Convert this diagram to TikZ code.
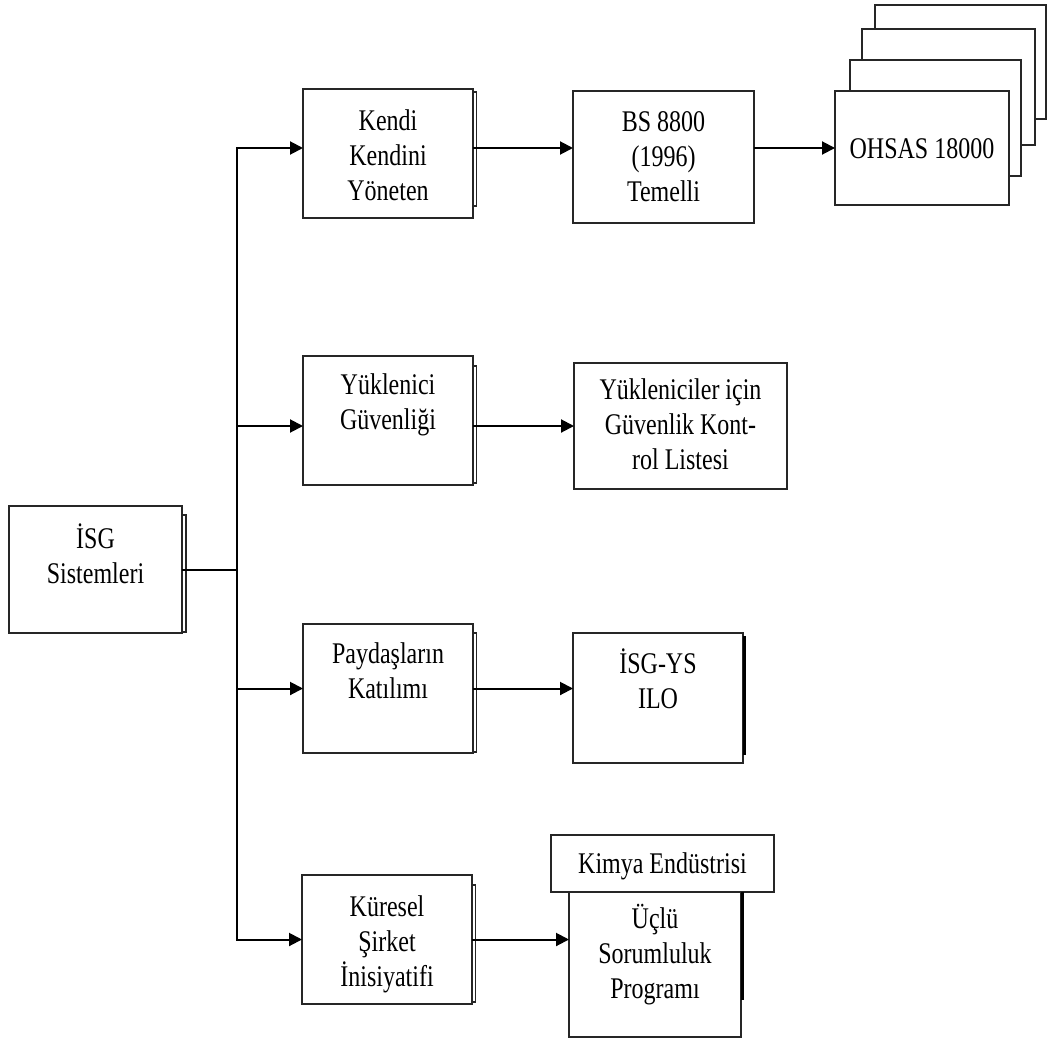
\documentclass[tikz,border=0pt]{standalone}
\usepackage{fontspec}
\setmainfont{Liberation Serif}[FakeStretch=0.8]
\usetikzlibrary{arrows.meta,calc,backgrounds}

\begin{document}
\begin{tikzpicture}[x=1pt,y=-1pt,
  box/.style={draw=black!85,line width=1.9pt,fill=white,rectangle,
              inner sep=0pt,outer sep=0pt,anchor=north west},
  % texts are placed by the baseline of their last line
  txt/.style={align=center,font=\fontsize{30}{35}\selectfont,
              anchor=base,inner sep=0pt},
  plain/.style={line width=2pt,draw=black},
  link/.style={plain,-{Triangle[length=13pt,width=13pt]}},
  sheet/.style={draw=black!85,line width=1.4pt},
  thickedge/.style={draw=black,line width=3pt}
]
\useasboundingbox (0,0) rectangle (1048,1038);

% ---- left root box ----
\node[box,minimum width=173pt,minimum height=127pt] (isg) at (9,506) {};
\node[txt] (isgT) at (95.5,583) {İSG\\Sistemleri};

% ---- second column ----
\node[box,minimum width=170pt,minimum height=129pt] (kendi) at (303,89) {};
\node[txt] (kendiT) at (388,200) {Kendi\\Kendini\\Yöneten};

\node[box,minimum width=170pt,minimum height=129pt] (yuk) at (303,356) {};
\node[txt] (yukT) at (388,429) {Yüklenici\\Güvenliği};

\node[box,minimum width=170pt,minimum height=129pt] (pay) at (303,624) {};
\node[txt] (payT) at (388,698) {Paydaşların\\Katılımı};

\node[box,minimum width=170pt,minimum height=129pt] (kur) at (302,875) {};
\node[txt] (kurT) at (387,986) {Küresel\\Şirket\\İnisiyatifi};

% ---- third column ----
\node[box,minimum width=181pt,minimum height=132pt] (bs) at (573,91) {};
\node[txt] (bsT) at (663.5,201) {BS 8800\\(1996)\\Temelli};

\node[box,minimum width=213pt,minimum height=126pt] (ykl) at (574,363) {};
\node[txt] (yklT) at (680.5,469) {Yükleniciler için\\Güvenlik Kont-\\rol Listesi};

\node[box,minimum width=170pt,minimum height=130pt] (ilo) at (573,633) {};
\node[txt] (iloT) at (658,708) {İSG-YS\\ILO};

\node[box,minimum width=172pt,minimum height=145pt] (ucl) at (569,892) {};
\node[txt] (uclT) at (655,998) {Üçlü\\Sorumluluk\\Programı};
\node[box,minimum width=223pt,minimum height=57pt] (kim) at (551,835) {};
\node[txt] (kimT) at (662.5,873) {Kimya Endüstrisi};

% ---- stacked OHSAS sheets ----
\node[box,minimum width=171pt,minimum height=114pt] (ohs4) at (875,5) {};
\node[box,minimum width=173pt,minimum height=116pt] (ohs3) at (862,29) {};
\node[box,minimum width=171pt,minimum height=116pt] (ohs2) at (850,60) {};
\node[box,minimum width=174pt,minimum height=114pt] (ohs) at (835,91) {};
\node[txt] (ohsT) at (922,158) {OHSAS 18000};

% ---- page shadows behind the boxes ----
\begin{scope}[on background layer]
  \draw[sheet] ($(isg.north east)+(-3,9)$) rectangle ($(isg.south east)+(4,-1)$);
  \draw[sheet] ($(kendi.north east)+(-3,3)$) rectangle ($(kendi.south east)+(3.5,-12)$);
  \draw[sheet] ($(yuk.north east)+(-3,10)$) rectangle ($(yuk.south east)+(3.5,-2)$);
  \draw[sheet] ($(pay.north east)+(-3,9)$) rectangle ($(pay.south east)+(3.5,-1)$);
  \draw[sheet] ($(kur.north east)+(-3,10)$) rectangle ($(kur.south east)+(3.5,-2)$);
\end{scope}
\draw[thickedge] ($(ilo.north east)+(1.5,3)$) -- ($(ilo.south east)+(1.5,-8)$);
\draw[thickedge] ($(ucl.north east)+(1.5,0)$) -- ($(ucl.north east)+(1.5,108)$);

% ---- connectors ----
\coordinate (jn) at ($(isg.east)+(55,0)$);
\draw[plain] (isg.east) -- (jn);
\draw[link] (jn) |- (kendi.west |- ohs.west);
\draw[link] (jn) |- (yuk.west |- ykl.west);
\draw[link] (jn) |- (pay.west);
\draw[link] (jn) |- (kur.west);

\draw[link] (kendi.east |- ohs.west) -- (bs.west |- ohs.west);
\draw[link] (bs.east |- ohs.west) -- (ohs.west);
\draw[link] (yuk.east |- ykl.west) -- (ykl.west);
\draw[link] (pay.east) -- (pay.east -| ilo.west);
\draw[link] (kur.east) -- (kur.east -| ucl.west);
\end{tikzpicture}
\end{document}
